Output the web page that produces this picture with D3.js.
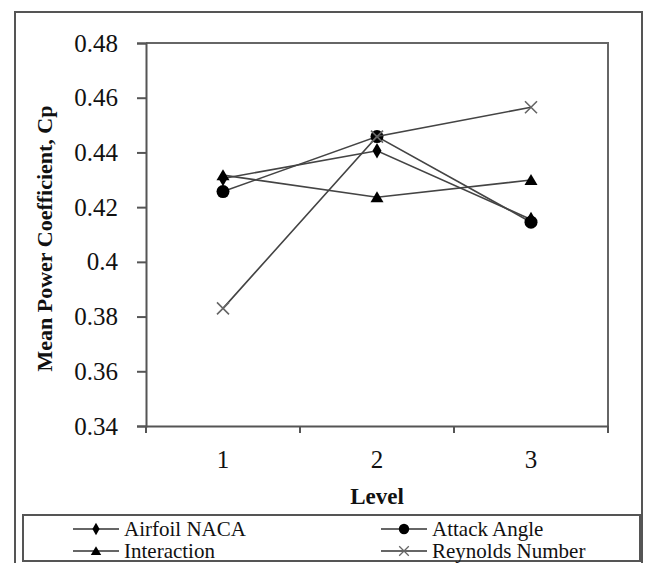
<!DOCTYPE html>
<html>
<head>
<meta charset="utf-8">
<script src="https://cdn.jsdelivr.net/npm/d3@7"></script>
<style>
  body { margin: 0; background: #fff; }
</style>
</head>
<body>
<svg id="chart" width="645" height="563"></svg>
<script>
const levels = ['1', '2', '3'];
const yTicks = [0.34, 0.36, 0.38, 0.40, 0.42, 0.44, 0.46, 0.48];
const seriesNames = ['Airfoil NACA', 'Attack Angle', 'Interaction', 'Reynolds Number'];
const airfoilNaca = [0.4305, 0.4406, 0.4155];
const attackAngle = [0.4257, 0.4458, 0.4145];
const interaction = [0.4317, 0.4236, 0.4299];
const reynoldsNumber = [0.383, 0.4458, 0.4565];

const serifFont = '"Liberation Serif", "Times New Roman", Tinos, "DejaVu Serif", serif';

const series = [
  { name: seriesNames[0], values: airfoilNaca, marker: 'diamond' },
  { name: seriesNames[1], values: attackAngle, marker: 'circle' },
  { name: seriesNames[2], values: interaction, marker: 'triangle' },
  { name: seriesNames[3], values: reynoldsNumber, marker: 'cross' }
];

const margin = { top: 43, right: 37, bottom: 137, left: 146 };
const width = 645 - margin.left - margin.right;
const height = 563 - margin.top - margin.bottom;

const svg = d3.select('#chart');

// outer frame
svg.append('rect')
  .attr('x', 15).attr('y', 12)
  .attr('width', 627).attr('height', 560)
  .attr('fill', 'none')
  .attr('stroke', '#555')
  .attr('stroke-width', 2);

const g = svg.append('g')
  .attr('transform', `translate(${margin.left},${margin.top})`);

const x = d3.scaleBand().domain(levels).range([0, width]).padding(0);
const y = d3.scaleLinear().domain([0.34, 0.48]).range([height, 0]);

// plot area border (top and right)
g.append('path')
  .attr('d', `M0,0H${width}V${height}`)
  .attr('fill', 'none')
  .attr('stroke', '#666')
  .attr('stroke-width', 2);

// y axis
const yAxis = g.append('g')
  .call(d3.axisLeft(y).tickValues(yTicks).tickSize(9).tickPadding(19)
    .tickFormat(d => d === 0.4 ? '0.4' : d3.format('.2f')(d)));
yAxis.attr('font-family', serifFont).attr('font-size', 25);
yAxis.select('.domain').attr('stroke', '#555').attr('stroke-width', 2);
yAxis.selectAll('.tick line').attr('stroke', '#555').attr('stroke-width', 2);
yAxis.selectAll('.tick text').attr('fill', '#111');

// x axis with ticks between categories
const xAxis = g.append('g')
  .attr('transform', `translate(0,${height})`)
  .call(d3.axisBottom(x).tickSize(0).tickPadding(24));
xAxis.attr('font-family', serifFont).attr('font-size', 25);
xAxis.select('.domain').attr('stroke', '#555').attr('stroke-width', 2);
xAxis.selectAll('.tick text').attr('fill', '#111');
xAxis.selectAll('.sep')
  .data([0, ...levels.map(d => x(d) + x.bandwidth())])
  .enter().append('line')
  .attr('class', 'sep')
  .attr('x1', d => d).attr('x2', d => d)
  .attr('y1', 0).attr('y2', 7)
  .attr('stroke', '#555').attr('stroke-width', 2);

// axis titles
g.append('text')
  .attr('x', width / 2).attr('y', height + 78)
  .attr('text-anchor', 'middle')
  .attr('font-family', serifFont)
  .attr('font-size', 23).attr('font-weight', 'bold')
  .attr('fill', '#111')
  .text('Level');

g.append('text')
  .attr('transform', `translate(${-94},${height / 2 + 4}) rotate(-90)`)
  .attr('text-anchor', 'middle')
  .attr('font-family', serifFont)
  .attr('font-size', 22).attr('font-weight', 'bold')
  .attr('fill', '#111')
  .text('Mean Power Coefficient, Cp');

const cx = i => x(levels[i]) + x.bandwidth() / 2;

function drawMarker(sel, type) {
  if (type === 'circle') {
    sel.append('circle').attr('r', 6.5).attr('fill', '#000');
  } else if (type === 'diamond') {
    sel.append('path').attr('d', d3.symbol(d3.symbolDiamond, 70)()).attr('fill', '#000');
  } else if (type === 'triangle') {
    sel.append('path').attr('d', 'M0,-6L6.5,5H-6.5Z').attr('fill', '#000');
  } else {
    sel.append('path').attr('d', 'M-6,-6L6,6M-6,6L6,-6')
      .attr('stroke', '#666').attr('stroke-width', 1.6).attr('fill', 'none');
  }
}

const line = d3.line().x((d, i) => cx(i)).y(d => y(d));

series.forEach(s => {
  g.append('path')
    .datum(s.values)
    .attr('d', line)
    .attr('fill', 'none')
    .attr('stroke', '#444')
    .attr('stroke-width', 1.6);
  s.values.forEach((v, i) => {
    const m = g.append('g').attr('transform', `translate(${cx(i)},${y(v)})`);
    drawMarker(m, s.marker);
  });
});

// legend
svg.append('rect')
  .attr('x', 23).attr('y', 515)
  .attr('width', 617).attr('height', 46)
  .attr('fill', '#fff')
  .attr('stroke', '#555')
  .attr('stroke-width', 2);

const legendPos = [[73, 529], [381, 529], [73, 551], [381, 551]];
series.forEach((s, i) => {
  const lg = svg.append('g').attr('transform', `translate(${legendPos[i][0]},${legendPos[i][1]})`);
  lg.append('line').attr('x1', 0).attr('x2', 46).attr('y1', 0).attr('y2', 0)
    .attr('stroke', '#333').attr('stroke-width', 1.6);
  const m = lg.append('g');
  drawMarker(m, s.marker);
  m.attr('transform', 'translate(23,0) scale(0.8)');
  lg.append('text')
    .attr('x', 51).attr('y', 0).attr('dy', '0.35em')
    .attr('font-family', serifFont)
    .attr('font-size', 21)
    .attr('fill', '#111')
    .text(s.name);
});
</script>
</body>
</html>
